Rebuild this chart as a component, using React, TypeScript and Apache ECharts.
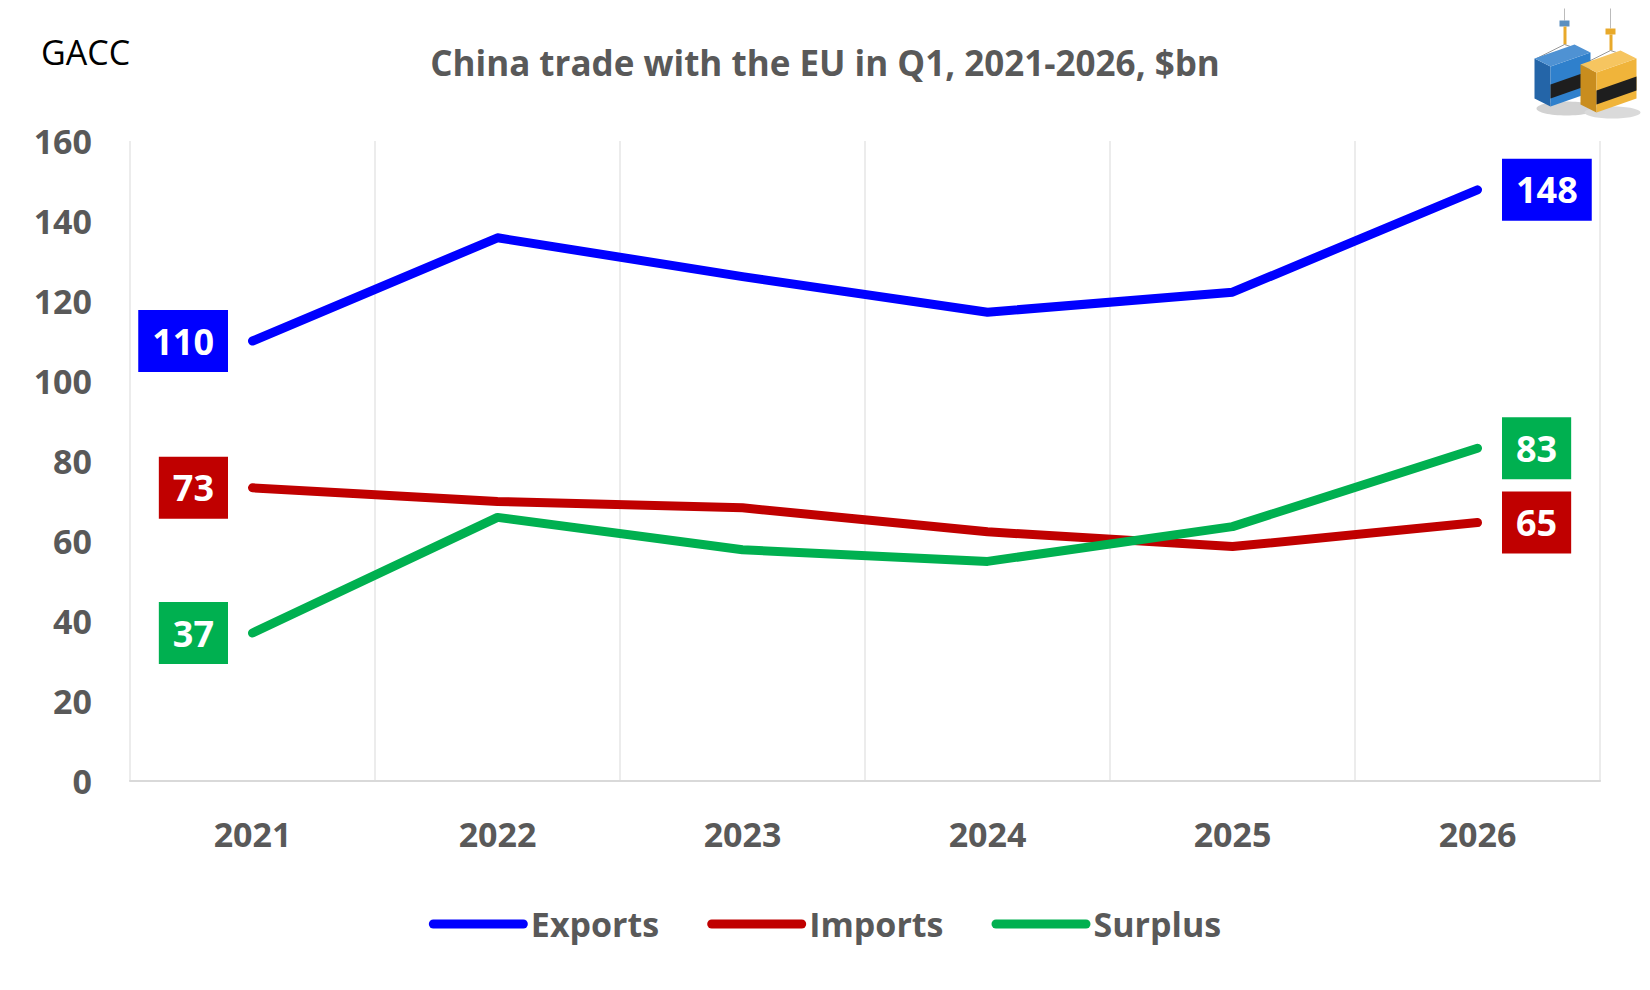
import React, { useEffect, useRef } from "react";
import * as echarts from "echarts";

const years = ["2021", "2022", "2023", "2024", "2025", "2026"];
const exportsData = [110, 135.8, 126.1, 117.2, 122.2, 147.8];
const importsData = [73.3, 69.9, 68.3, 62.3, 58.6, 64.6];
const surplusData = [37, 65.9, 57.8, 54.9, 63.6, 83.2];
const yTicks = { min: 0, max: 160, interval: 20 };

const FONT = "'Open Sans', 'Noto Sans', sans-serif";
const GREY = "#595959";

function mkData(vals: number[], color: string) {
  return vals.map((v, i) => {
    const first = i === 0;
    const last = i === vals.length - 1;
    if (!first && !last) return v;
    return {
      value: v,
      label: {
        show: true,
        position: first ? "left" : "right",
        distance: 24,
        formatter: () => String(Math.round(v)),
        color: "#ffffff",
        fontFamily: FONT,
        fontWeight: "bold",
        fontSize: 36,
        backgroundColor: color,
        padding: [11, 14, 11, 14],
        lineHeight: 40,
      },
    };
  });
}

function series(name: string, vals: number[], color: string) {
  return {
    name,
    type: "line",
    data: mkData(vals, color),
    symbol: "circle",
    symbolSize: 1,
    showSymbol: true,
    itemStyle: { color },
    lineStyle: { color, width: 9, cap: "round", join: "round" },
    emphasis: { disabled: true },
  };
}

const legendIcon =
  "path://M4.5,0 L94.5,0 A4.5,4.5 0 0 1 94.5,9 L4.5,9 A4.5,4.5 0 0 1 4.5,0 Z";

function container(dx: number, dy: number, light: string, mid: string, dark: string) {
  const p = (pts: number[][]) => pts.map(([x, y]) => [x + dx, y + dy]);
  return [
    { type: "polygon", shape: { points: p([[2, 50], [18, 58], [18, 98], [2, 90]]) }, style: { fill: dark } },
    { type: "polygon", shape: { points: p([[18, 58], [58, 44], [58, 84], [18, 98]]) }, style: { fill: mid } },
    { type: "polygon", shape: { points: p([[2, 50], [42, 36], [58, 44], [18, 58]]) }, style: { fill: light } },
    { type: "polygon", shape: { points: p([[18, 76], [58, 62], [58, 76], [18, 90]]) }, style: { fill: "#1e1e1e" } },
  ];
}

export default function App() {
  const ref = useRef<HTMLDivElement>(null);
  useEffect(() => {
    if (!ref.current) return;
    const chart = echarts.init(ref.current, null, { renderer: "svg" });
    chart.setOption({
      animation: false,
      backgroundColor: "#ffffff",
      title: {
        text: "China trade with the EU in Q1, 2021-2026, $bn",
        left: "center",
        top: 40,
        textStyle: {
          fontFamily: FONT,
          fontWeight: "bold",
          fontSize: 35,
          color: GREY,
        },
      },
      grid: { left: 130, right: 50, top: 141, bottom: 209, containLabel: false },
      legend: {
        bottom: 44,
        left: "center",
        itemWidth: 99,
        itemHeight: 9,
        itemGap: 48,
        icon: legendIcon,
        textStyle: {
          fontFamily: FONT,
          fontWeight: "bold",
          fontSize: 34,
          color: GREY,
          padding: [0, 0, 0, -2],
        },
        data: ["Exports", "Imports", "Surplus"],
      },
      xAxis: {
        type: "category",
        data: years,
        boundaryGap: true,
        axisLine: { show: true, lineStyle: { color: "#d9d9d9", width: 2 } },
        axisTick: { show: false },
        splitLine: { show: true, lineStyle: { color: "#ececec", width: 2 } },
        axisLabel: {
          margin: 36,
          fontFamily: FONT,
          fontWeight: "bold",
          fontSize: 34,
          color: GREY,
        },
      },
      yAxis: {
        type: "value",
        min: yTicks.min,
        max: yTicks.max,
        interval: yTicks.interval,
        axisLine: { show: false },
        axisTick: { show: false },
        splitLine: { show: false },
        axisLabel: {
          margin: 38,
          fontFamily: FONT,
          fontWeight: "bold",
          fontSize: 34,
          color: GREY,
        },
      },
      graphic: [
        {
          type: "text",
          left: 41,
          top: 35,
          style: {
            text: "GACC",
            fontFamily: FONT,
            fontSize: 34,
            fill: "#000000",
          },
        },
        {
          type: "group",
          left: 1534,
          top: 6,
          children: [
            { type: "ellipse", shape: { cx: 34, cy: 100, rx: 30, ry: 7 }, style: { fill: "#d2d2d2" } },
            { type: "ellipse", shape: { cx: 80, cy: 104, rx: 28, ry: 6 }, style: { fill: "#dadada" } },
            { type: "line", shape: { x1: 32, y1: 0, x2: 32, y2: 12 }, style: { stroke: "#bbbbbb", lineWidth: 1 } },
            { type: "line", shape: { x1: 78, y1: 0, x2: 78, y2: 20 }, style: { stroke: "#bbbbbb", lineWidth: 1 } },
            { type: "rect", shape: { x: 27, y: 12, width: 10, height: 6 }, style: { fill: "#5a8fc0" } },
            { type: "rect", shape: { x: 31, y: 18, width: 3, height: 18 }, style: { fill: "#e8a92a" } },
            { type: "rect", shape: { x: 73, y: 20, width: 10, height: 6 }, style: { fill: "#e8a92a" } },
            { type: "rect", shape: { x: 77, y: 26, width: 3, height: 16 }, style: { fill: "#e8a92a" } },
            { type: "line", shape: { x1: 32, y1: 36, x2: 4, y2: 50 }, style: { stroke: "#999999", lineWidth: 1 } },
            { type: "line", shape: { x1: 32, y1: 36, x2: 56, y2: 44 }, style: { stroke: "#999999", lineWidth: 1 } },
            { type: "line", shape: { x1: 78, y1: 42, x2: 50, y2: 56 }, style: { stroke: "#999999", lineWidth: 1 } },
            { type: "line", shape: { x1: 78, y1: 42, x2: 102, y2: 50 }, style: { stroke: "#999999", lineWidth: 1 } },
            ...container(0, 0, "#4f92d3", "#2f80cc", "#2465a8"),
            ...container(46, 6, "#f6c560", "#f0b43a", "#c98d1e"),
          ],
        },
      ],
      series: [
        series("Exports", exportsData, "#0000ff"),
        series("Imports", importsData, "#c00000"),
        series("Surplus", surplusData, "#00b050"),
      ],
    });
    return () => chart.dispose();
  }, []);
  return <div ref={ref} style={{ width: 1650, height: 990, margin: -8 }} />;
}
